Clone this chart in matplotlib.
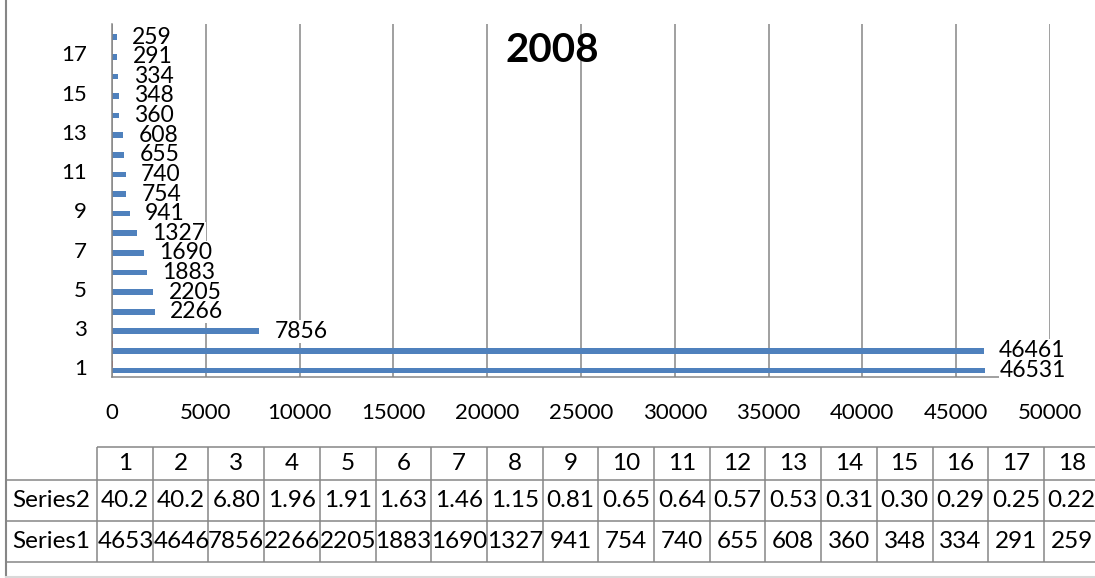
import matplotlib.pyplot as plt
import numpy as np

plt.rcParams['font.family'] = ['Lato', 'DejaVu Sans']

# data
categories = [str(i) for i in range(1, 19)]
series1 = [46531, 46461, 7856, 2266, 2205, 1883, 1690, 1327, 941,
           754, 740, 655, 608, 360, 348, 334, 291, 259]
series2 = [40.2, 40.2, 6.80, 1.96, 1.91, 1.63, 1.46, 1.15, 0.81,
           0.65, 0.64, 0.57, 0.53, 0.31, 0.30, 0.29, 0.25, 0.22]
series_names = ['Series2', 'Series1']
x_ticks = list(range(0, 50001, 5000))
y_ticks = list(range(1, 18, 2))
title = '2008'

W, H = 1095, 578
blue = '#4F81BD'
red = '#C0504D'
grid_c = '#868686'
fs = 16
fs_tab = 17.5


def fx(px):
    return px / W


def fy(py):
    return 1 - py / H


fig = plt.figure(figsize=(W / 100, H / 100), dpi=100)

# main bar plot
ax = fig.add_axes([fx(112), fy(377), fx(1050) - fx(112), fy(24) - fy(377)])
pos = np.arange(1, len(categories) + 1)
ax.barh(pos - 0.17, series1, height=0.29, color=blue, zorder=2)
ax.barh(pos + 0.17, series2, height=0.29, color=red, zorder=2)
ax.set_xlim(0, 50000)
ax.set_ylim(0.5, len(categories) + 0.5)
ax.set_xticks(x_ticks)
ax.set_xticklabels([str(v) for v in x_ticks])
ax.set_yticks(y_ticks)
ax.set_yticklabels([categories[i - 1] for i in y_ticks])
ax.tick_params(length=0, labelsize=fs)
ax.tick_params(axis='x', pad=19)
ax.tick_params(axis='y', pad=18)
ax.grid(axis='x', color=grid_c, lw=1.1, zorder=0)
ax.set_axisbelow(True)
for s in ['top', 'right']:
    ax.spines[s].set_visible(False)
for s in ['left', 'bottom']:
    ax.spines[s].set_color(grid_c)
    ax.spines[s].set_linewidth(1.1)

# data labels for Series1: white boxes first (they hide the gridlines),
# then the numbers on top so that neighbouring labels stay readable
for p, v in zip(pos, series1):
    ax.annotate(str(v), xy=(v, p - 0.17), xytext=(11, 0),
                textcoords='offset points', ha='left', va='center',
                fontsize=16.5, color='none', zorder=3,
                bbox=dict(boxstyle='square,pad=0.05', fc='white', ec='none'))
for p, v in zip(pos, series1):
    ax.annotate(str(v), xy=(v, p - 0.17), xytext=(11, 0),
                textcoords='offset points', ha='left', va='center',
                fontsize=16.5, zorder=4)

fig.text(fx(552), fy(62), title, ha='center', va='baseline',
         fontsize=29, fontweight='bold')

# data table and chart border, in pixel units
tab = fig.add_axes([0, 0, 1, 1], zorder=-1)
tab.set_xlim(0, W)
tab.set_ylim(H, 0)
tab.axis('off')

col_left = 97
col_w = 55.7
row_y = [447, 480, 521, 562]
lw_t = 1.1

tab.hlines(row_y[0], col_left, W, color=grid_c, lw=lw_t)
tab.hlines(row_y[1:], 6, W, color=grid_c, lw=lw_t)
for i in range(len(categories) + 1):
    tab.vlines(col_left + i * col_w, row_y[0], row_y[-1], color=grid_c, lw=lw_t)
tab.vlines(5.5, 0, H, color=grid_c, lw=1.5)
tab.hlines(577, 5, W, color='#D9D9D9', lw=1.5)

# header row
for i, c in enumerate(categories):
    tab.text(col_left + (i + 0.5) * col_w, (row_y[0] + row_y[1]) / 2, c,
             ha='center', va='center', fontsize=fs_tab)

rows = [[f'{v:.1f}' if v >= 10 else f'{v:.2f}' for v in series2],
        [str(v) for v in series1]]
for r, (name, vals) in enumerate(zip(series_names, rows)):
    y0, y1 = row_y[r + 1], row_y[r + 2]
    yc = (y0 + y1) / 2
    tab.text(12, yc, name, ha='left', va='center', fontsize=fs_tab)
    for i, s in enumerate(vals):
        x0 = col_left + i * col_w
        if len(s) > 4:
            # too wide for the cell: the chart cuts it at the cell edge
            tab.text(x0 + 1, yc, s[:4], ha='left', va='center', fontsize=fs_tab)
        else:
            tab.text(x0 + col_w / 2, yc, s, ha='center', va='center', fontsize=fs_tab)

fig.savefig('out.png', dpi=100)
